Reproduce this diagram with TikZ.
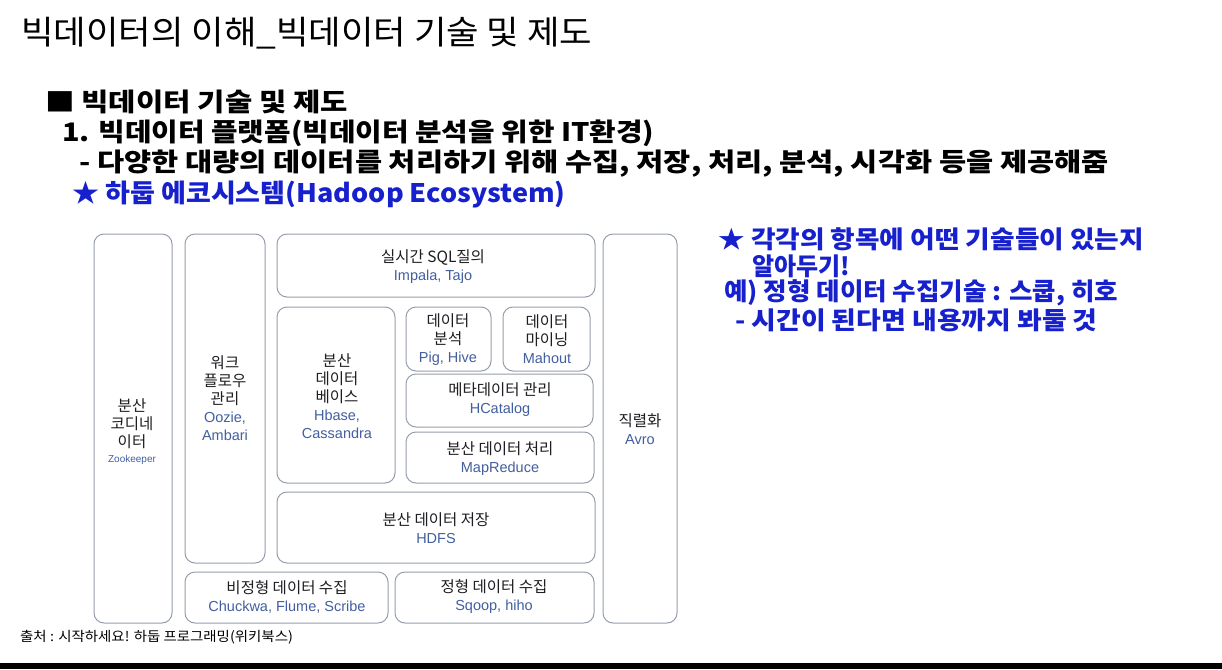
\documentclass[tikz,border=0pt]{standalone}
\usepackage{fontspec}
\usepackage{graphicx}
\setmainfont{Noto Sans CJK KR}
\newfontfamily\lat{Liberation Sans}
\definecolor{hblue}{RGB}{22,32,205}
\definecolor{latblue}{RGB}{66,95,160}
\definecolor{boxgray}{RGB}{150,158,172}
\definecolor{kgray}{RGB}{30,30,34}
\tikzset{
  box/.style={draw=boxgray, line width=1pt, rounded corners=10pt, inner sep=0pt},
  lbl/.style={align=center, inner sep=0pt, text=kgray, font=\fontsize{15.5}{18}\selectfont},
  hd/.style={anchor=west, inner sep=0pt, font=\bfseries\fontsize{25.5}{30}\selectfont},
  bl/.style={hd, text=hblue},
  rb/.style={anchor=west, inner sep=0pt, text=hblue, font=\bfseries\fontsize{24.5}{28}\selectfont},
}
\newcommand{\lt}[1]{{\lat\fontsize{14.5}{18}\selectfont\color{latblue}#1}}
\newcommand{\sx}[2]{\scalebox{#1}[1]{#2}}
\begin{document}
\begin{tikzpicture}[x=1pt,y=-1pt]
\useasboundingbox (0,0) rectangle (1222,669);
\fill[white] (0,0) rectangle (1222,669);
\fill[black] (0,663) rectangle (1222,669);

% headings
\node[anchor=west, inner sep=0pt, font=\fontsize{33}{38}\selectfont] (title) at (21,33) {\sx{1.07}{빅데이터의 이해\_빅데이터 기술 및 제도}};
\node[hd] (h1) at (45,102) {\sx{1.164}{■ 빅데이터 기술 및 제도}};
\node[hd] (h2) at (62,133) {\sx{1.131}{1. 빅데이터 플랫폼(빅데이터 분석을 위한 IT환경)}};
\node[hd] (h3) at (79,164) {\sx{1.157}{- 다양한 대량의 데이터를 처리하기 위해 수집, 저장, 처리, 분석, 시각화 등을 제공해줌}};
\node[bl] (h4) at (72,195) {\sx{1.06}{★ 하둡 에코시스템(Hadoop Ecosystem)}};

\node[rb] (r1) at (718,239) {\sx{1.09}{★ 각각의 항목에 어떤 기술들이 있는지}};
\node[rb] (r2) at (752,266) {\sx{0.98}{알아두기!}};
\node[rb] (r3) at (724,293) {\sx{1.042}{예) 정형 데이터 수집기술 : 스쿱, 히호}};
\node[rb] (r4) at (735,320) {\sx{1.097}{- 시간이 된다면 내용까지 봐둘 것}};

\node[anchor=west, inner sep=0pt, font=\fontsize{13.5}{15}\selectfont] (src) at (20,637) {\sx{1.07}{출처 : 시작하세요! 하둡 프로그래밍(위키북스)}};

% boxes
\node[box, minimum width=78pt, minimum height=389pt] (zk) at (133,428.5) {};
\node[box, minimum width=80pt, minimum height=329pt] (wf) at (225,398.5) {};
\node[box, minimum width=318pt, minimum height=63pt] (sql) at (436,265.5) {};
\node[box, minimum width=118pt, minimum height=176pt] (hb) at (336,395) {};
\node[box, minimum width=85pt, minimum height=64pt] (ana) at (448.5,339) {};
\node[box, minimum width=87pt, minimum height=64pt] (min) at (546.5,339) {};
\node[box, minimum width=187pt, minimum height=53pt] (meta) at (499.5,400.5) {};
\node[box, minimum width=188pt, minimum height=51pt] (proc) at (500,457.5) {};
\node[box, minimum width=318pt, minimum height=71pt] (store) at (436,527.5) {};
\node[box, minimum width=203pt, minimum height=51pt] (unst) at (286.5,597.5) {};
\node[box, minimum width=199pt, minimum height=51pt] (st) at (494.5,597.5) {};
\node[box, minimum width=74pt, minimum height=389pt] (avro) at (640,428.5) {};

% labels
\node[lbl] (zkl) at (132,432) {분산\\코디네\\이터\\[-3pt]{\lat\color{latblue}\fontsize{10}{12}\selectfont Zookeeper}};
\node[lbl] (wfl) at (225,398.5) {워크\\플로우\\관리\\\lt{Oozie,}\\\lt{Ambari}};
\node[lbl] (hbl) at (337,396) {분산\\데이터\\베이스\\\lt{Hbase,}\\\lt{Cassandra}};
\node[lbl] (sqll) at (433,266.5) {실시간 SQL질의\\\lt{Impala, Tajo}};
\node[lbl] (anal) at (448,339.5) {데이터\\분석\\\lt{Pig, Hive}};
\node[lbl] (minl) at (547,339.5) {데이터\\마이닝\\\lt{Mahout}};
\node[lbl] (metal) at (500,400) {메타데이터 관리\\\lt{HCatalog}};
\node[lbl] (procl) at (500,459) {분산 데이터 처리\\\lt{MapReduce}};
\node[lbl] (avrol) at (640,429) {직렬화\\\lt{Avro}};
\node[lbl] (storel) at (436,528) {분산 데이터 저장\\\lt{HDFS}};
\node[lbl] (unstl) at (287,596.5) {비정형 데이터 수집\\\lt{Chuckwa, Flume, Scribe}};
\node[lbl] (stl) at (494,596.5) {정형 데이터 수집\\\lt{Sqoop, hiho}};
\end{tikzpicture}
\end{document}
